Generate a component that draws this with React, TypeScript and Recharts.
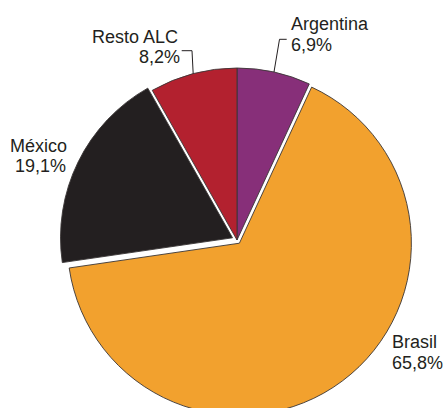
import React from 'react';
import { PieChart, Pie, Cell } from 'recharts';

// ---- data ----
const categories = ['Argentina', 'Brasil', 'México', 'Resto ALC'];
const shares = [6.9, 65.8, 19.1, 8.2];
const shareLabels = ['6,9%', '65,8%', '19,1%', '8,2%'];

// ---- styles ----
const colors = ['#872F79', '#F2A12E', '#231F20', '#B3212F'];
const explodeDistance = [0, 4, 5, 0];
const textColor = '#231F20';
const outline = '#3a3536';

const CX = 237;
const CY = 240;
const R = 172;

const data = categories.map((name, i) => ({ name, value: shares[i], label: shareLabels[i] }));

// label layout (annotation positions)
const labelLayout = [
  { x1: 291, x2: 291, y: 30, anchor: 'start', elbow: [279.5, 39.3], end: [286.7, 39.3] },
  { x1: 392, x2: 392, y: 348, anchor: 'start' },
  { x1: 10, x2: 15, y: 151.5, anchor: 'start' },
  { x1: 178, x2: 180, y: 42.5, anchor: 'end', elbow: [192, 50.7], end: [181.7, 50.7] },
];
const lineGap = 20.5;

const total = shares.reduce((a, b) => a + b, 0);
function explodeOffset(i: number) {
  const before = shares.slice(0, i).reduce((a, b) => a + b, 0);
  const mid = 90 - (360 * (before + shares[i] / 2)) / total;
  const rad = (mid * Math.PI) / 180;
  const d = explodeDistance[i];
  return { dx: d * Math.cos(rad), dy: -d * Math.sin(rad) };
}

const renderLabel = (props: any) => {
  const { index, cx, cy, outerRadius, midAngle } = props;
  const L = labelLayout[index];
  const rad = (-midAngle * Math.PI) / 180;
  const sx = cx + outerRadius * Math.cos(rad);
  const sy = cy + outerRadius * Math.sin(rad);
  return (
    <g key={`lbl-${index}`}>
      {L.elbow && (
        <polyline
          points={`${sx},${sy} ${L.elbow[0]},${L.elbow[1]} ${L.end[0]},${L.end[1]}`}
          fill="none"
          stroke={textColor}
          strokeWidth={1}
        />
      )}
      <text
        x={L.x1}
        y={L.y}
        textAnchor={L.anchor}
        fill={textColor}
        fontSize={18}
        fontFamily="'Liberation Sans', Arial, sans-serif"
      >
        {categories[index]}
      </text>
      <text
        x={L.x2}
        y={L.y + lineGap}
        textAnchor={L.anchor}
        fill={textColor}
        fontSize={18}
        fontFamily="'Liberation Sans', Arial, sans-serif"
      >
        {shareLabels[index]}
      </text>
    </g>
  );
};

const groups = [
  { members: [0, 3], key: 'base' },
  { members: [1], key: 'brasil' },
  { members: [2], key: 'mexico' },
];

export default function App() {
  return (
    <div style={{ position: 'absolute', left: 0, top: 0, width: 446, height: 408, background: '#fff' }}>
      <PieChart width={446} height={408} margin={{ top: 0, right: 0, bottom: 0, left: 0 }}>
        {groups.map((g) => {
          const off = g.members.length === 1 ? explodeOffset(g.members[0]) : { dx: 0, dy: 0 };
          return (
            <Pie
              key={g.key}
              data={data}
              dataKey="value"
              nameKey="name"
              cx={CX + off.dx}
              cy={CY + off.dy}
              outerRadius={R}
              innerRadius={0}
              startAngle={90}
              endAngle={-270}
              isAnimationActive={false}
              label={false}
              labelLine={false}
            >
              {data.map((d, i) => {
                const on = g.members.includes(i);
                return (
                  <Cell
                    key={`c-${g.key}-${i}`}
                    fill={on ? colors[i] : 'none'}
                    stroke={on ? outline : 'none'}
                    strokeWidth={on ? 0.9 : 0}
                  />
                );
              })}
            </Pie>
          );
        })}
        <Pie
          key="labels"
          data={data}
          dataKey="value"
          nameKey="name"
          cx={CX}
          cy={CY}
          outerRadius={R}
          startAngle={90}
          endAngle={-270}
          isAnimationActive={false}
          label={renderLabel}
          labelLine={false}
        >
          {data.map((d, i) => (
            <Cell key={`l-${i}`} fill="none" stroke="none" />
          ))}
        </Pie>
      </PieChart>
    </div>
  );
}
